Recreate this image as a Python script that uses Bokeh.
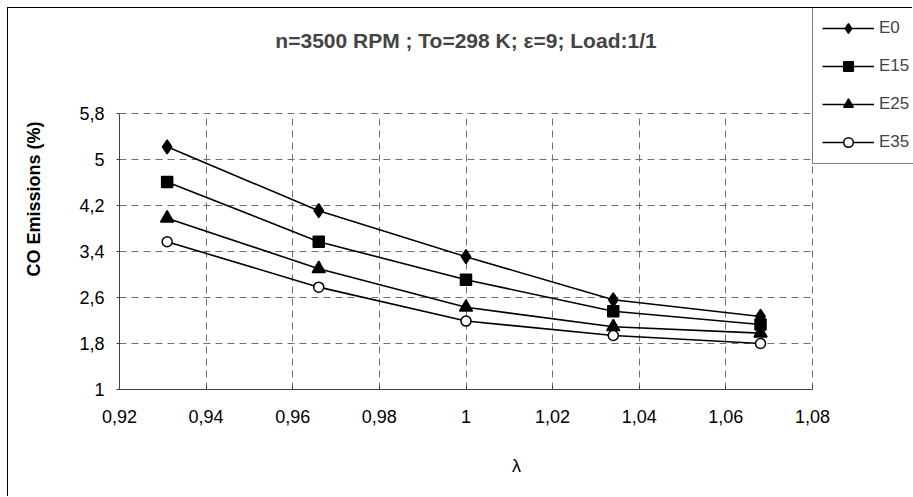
from bokeh.plotting import figure
from bokeh.models import FixedTicker, Legend, LegendItem, Label
from bokeh.embed import file_html
from bokeh.resources import INLINE

lam = [0.931, 0.966, 1.0, 1.034, 1.068]
e0 = [5.22, 4.11, 3.31, 2.56, 2.27]
e15 = [4.61, 3.57, 2.91, 2.36, 2.13]
e25 = [3.98, 3.10, 2.43, 2.09, 1.98]
e35 = [3.57, 2.78, 2.19, 1.94, 1.80]

x_ticks = [0.92, 0.94, 0.96, 0.98, 1.0, 1.02, 1.04, 1.06, 1.08]
x_tick_labels = ["0,92", "0,94", "0,96", "0,98", "1", "1,02", "1,04", "1,06", "1,08"]
y_ticks = [1, 1.8, 2.6, 3.4, 4.2, 5, 5.8]
y_tick_labels = ["1", "1,8", "2,6", "3,4", "4,2", "5", "5,8"]

title_text = "n=3500 RPM ; To=298 K; \u03b5=9; Load:1/1"
FONT = "Liberation Sans"

# layout (pixels): the plotted axes box and the room the chart keeps beside it
W, H = 905, 489
LEFT, BOTTOM = 111, 108          # space for the y and x axes
AX_W, AX_H = 693, 276            # size of the axes box
TOP_ROOM = H - BOTTOM - AX_H     # room above the axes box (title, legend)
RIGHT_ROOM = W - LEFT - AX_W     # room right of the axes box (legend)

x0, x1 = x_ticks[0], x_ticks[-1]
y0, y1 = y_ticks[0], y_ticks[-1]
x_end = x1 + RIGHT_ROOM * (x1 - x0) / AX_W
y_end = y1 + TOP_ROOM * (y1 - y0) / AX_H

p = figure(width=W, height=H, output_backend="svg", toolbar_location=None,
           x_range=(x0, x_end), y_range=(y0, y_end),
           min_border_left=LEFT, min_border_right=0, min_border_top=0,
           min_border_bottom=BOTTOM)
p.styles = {"margin-left": "7px", "margin-top": "7px",
            "border-left": "1px solid black", "border-top": "1px solid black"}
p.outline_line_color = None
p.background_fill_color = "white"

for ax, ticks, labels in ((p.xaxis[0], x_ticks, x_tick_labels), (p.yaxis[0], y_ticks, y_tick_labels)):
    ax.ticker = FixedTicker(ticks=ticks)
    ax.bounds = (ticks[0], ticks[-1])
    ax.major_label_overrides = {t: l for t, l in zip(ticks, labels)}
    ax.minor_tick_line_color = None
    ax.axis_line_color = "#404040"
    ax.major_tick_line_color = "#404040"
    ax.major_label_text_font = FONT
    ax.major_label_text_font_size = "18px"
    ax.major_label_text_color = "black"
    ax.axis_label_text_color = "black"

p.xaxis.major_tick_in = 4
p.xaxis.major_tick_out = 0
p.xaxis.major_label_standoff = 20
p.yaxis.major_tick_in = 0
p.yaxis.major_tick_out = 3
p.yaxis.major_label_standoff = 12

p.xaxis.axis_label = "\u03bb"
p.xaxis.axis_label_text_font = FONT
p.xaxis.axis_label_text_font_style = "normal"
p.xaxis.axis_label_text_font_size = "18px"
p.xaxis.axis_label_standoff = 30

p.yaxis.axis_label = "CO Emissions (%)"
p.yaxis.axis_label_text_font = FONT
p.yaxis.axis_label_text_font_style = "bold"
p.yaxis.axis_label_text_font_size = "18px"
p.yaxis.axis_label_standoff = 32

p.xgrid[0].cross_bounds = (y0, y1)
p.ygrid[0].cross_bounds = (x0, x1)
for g in (p.xgrid[0], p.ygrid[0]):
    g.grid_line_color = "#707070"
    g.grid_line_dash = "7 5"
    g.grid_line_width = 1

p.add_layout(Label(x=AX_W / 2, y=AX_H + TOP_ROOM - 32, x_units="screen", y_units="screen",
                   text=title_text, text_font=FONT, text_font_style="bold",
                   text_font_size="21px", text_align="center", text_baseline="middle"))

items = []
specs = [("E0", e0, "diamond", 14, "black"),
         ("E15", e15, "square", 11, "black"),
         ("E25", e25, "triangle", 13, "black"),
         ("E35", e35, "circle", 10, "white")]
for name, ys, marker, size, fill in specs:
    ln = p.line(lam, ys, line_color="black", line_width=1.6)
    sc = p.scatter(lam, ys, marker=marker, size=size, fill_color=fill,
                   line_color="black", line_width=1.5)
    items.append(LegendItem(label=name, renderers=[ln, sc]))

LEG_H = 156
legend = Legend(items=items, location=(AX_W, AX_H + TOP_ROOM - LEG_H), orientation="vertical")
legend.border_line_color = "black"
legend.border_line_width = 1
legend.background_fill_color = "white"
legend.background_fill_alpha = 1
legend.padding = 9
legend.margin = 0
legend.spacing = 14
legend.glyph_height = 24
legend.glyph_width = 52
legend.label_standoff = 5
legend.label_text_font = FONT
legend.label_text_font_size = "17px"
legend.label_height = 24
p.add_layout(legend, "center")

open("out.html", "w").write(file_html(p, INLINE))
